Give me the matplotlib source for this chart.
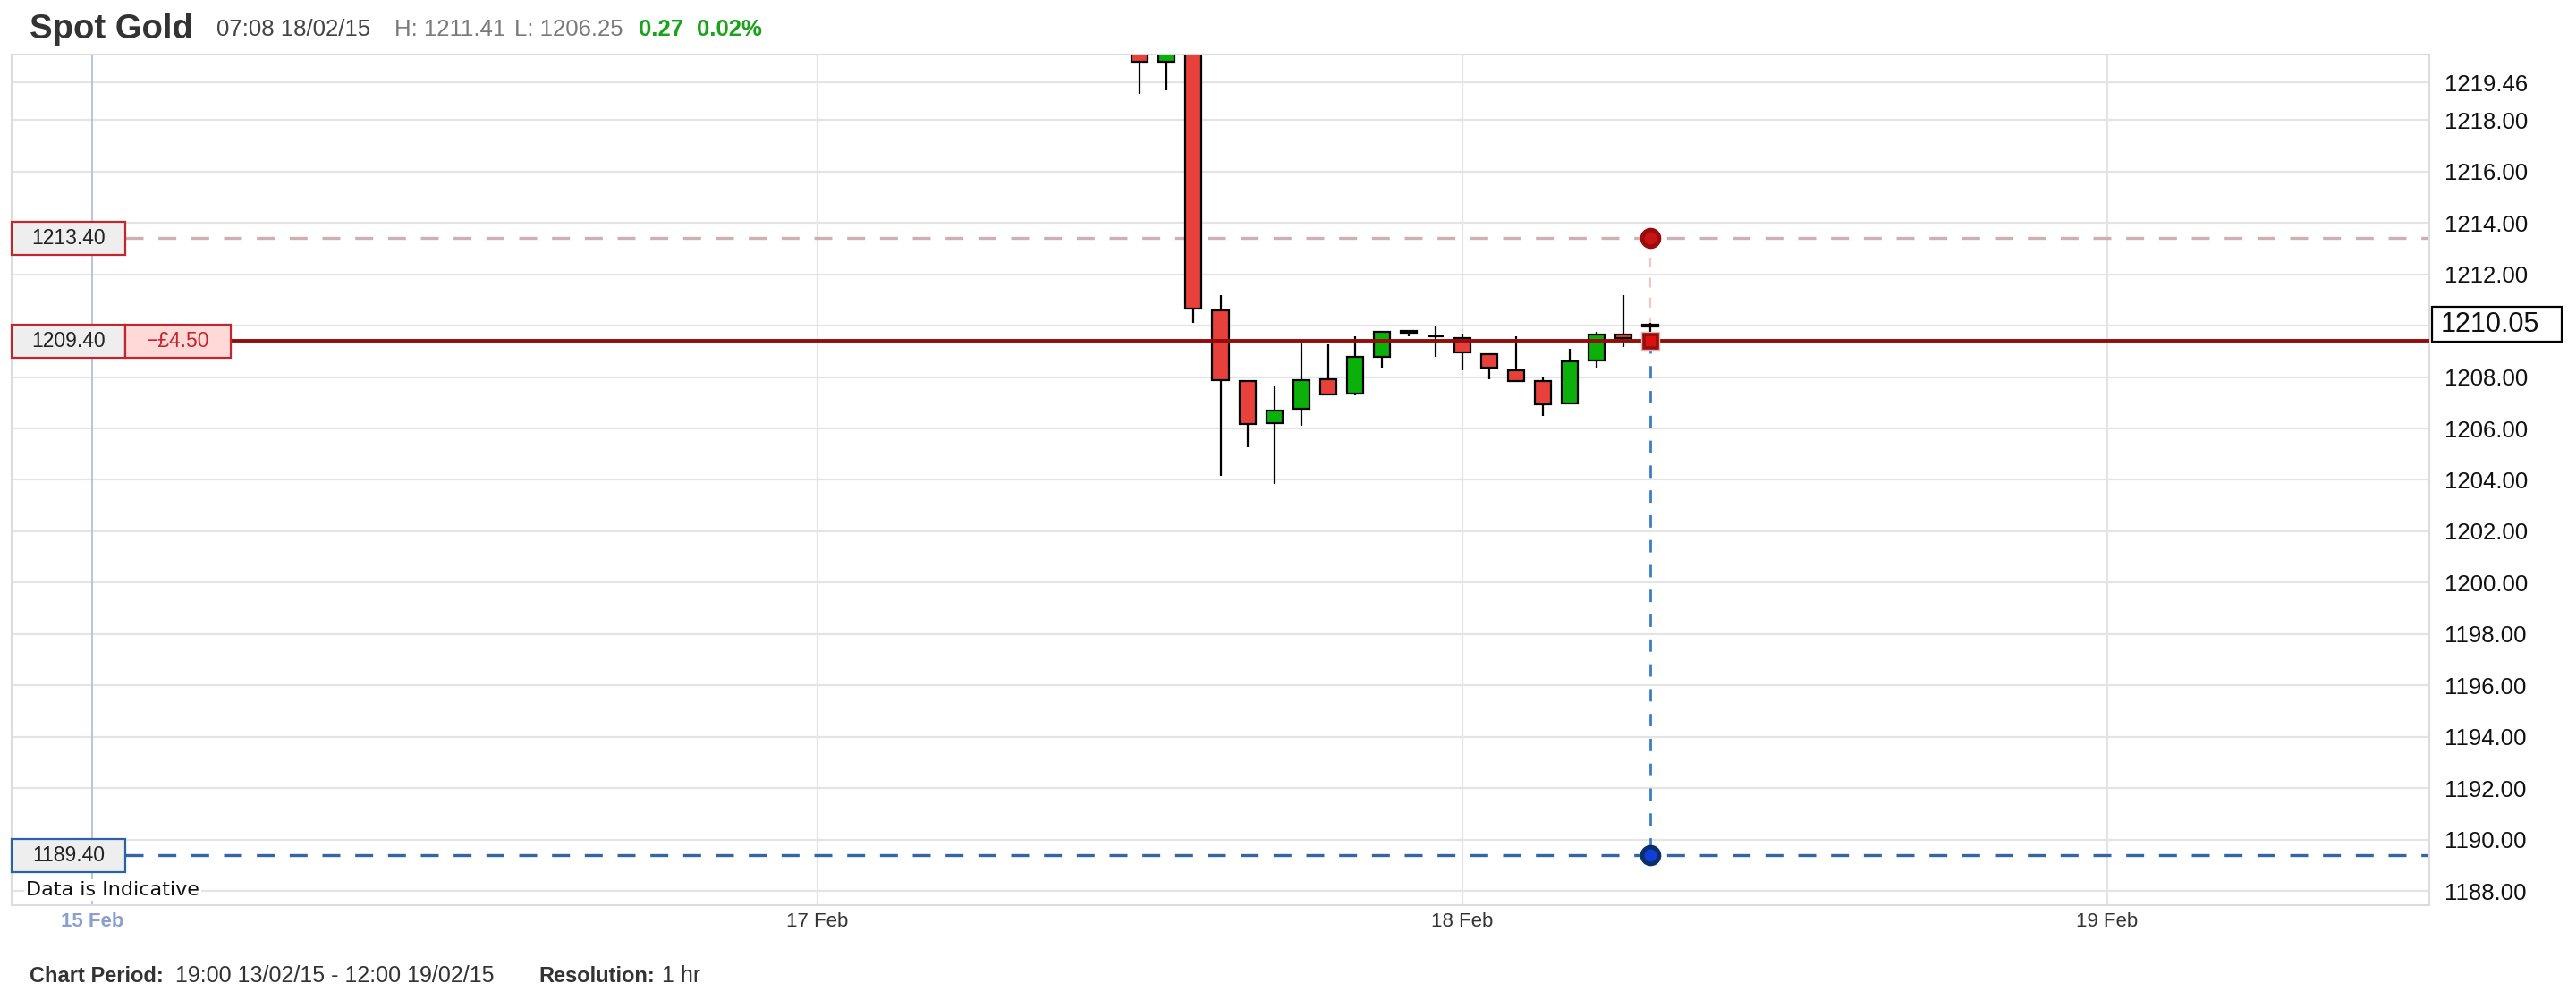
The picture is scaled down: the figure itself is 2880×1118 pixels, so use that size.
import matplotlib
matplotlib.use("Agg")
import matplotlib.pyplot as plt
import numpy as np
from matplotlib.patches import Rectangle
from matplotlib.transforms import blended_transform_factory

plt.rcParams['font.family'] = ['Liberation Sans', 'DejaVu Sans']

# hourly candles, x = hours counted from 17 Feb 00:00
hours = np.arange(12, 32)
opens = np.array([1221.20, 1220.26, 1221.10, 1210.59, 1207.83, 1206.22, 1206.77, 1207.92,
                  1207.37, 1208.78, 1209.78, 1209.60, 1209.51, 1208.88, 1208.25, 1207.83,
                  1206.98, 1208.64, 1209.66, 1209.98])
highs = np.array([1221.60, 1221.80, 1221.50, 1211.17, 1207.83, 1207.65, 1209.33, 1209.28,
                  1209.60, 1209.75, 1209.78, 1209.96, 1209.69, 1208.88, 1209.60, 1207.98,
                  1209.08, 1209.75, 1211.17, 1210.10])
lows = np.array([1219.00, 1219.16, 1210.11, 1204.16, 1205.27, 1203.86, 1206.10, 1207.31,
                 1207.29, 1208.37, 1209.60, 1208.78, 1208.25, 1207.92, 1207.82, 1206.49,
                 1206.98, 1208.36, 1209.18, 1209.40])
closes = np.array([1220.25, 1221.30, 1210.66, 1207.88, 1206.19, 1206.70, 1207.89, 1207.31,
                   1208.77, 1209.75, 1209.72, 1209.60, 1208.94, 1208.37, 1207.86, 1206.95,
                   1208.60, 1209.64, 1209.52, 1210.05])

# date ticks (hours from 17 Feb 00:00)
date_pos = [-27, 0, 24, 48]
date_labels = ['15 Feb', '17 Feb', '18 Feb', '19 Feb']

price_ticks = [1188, 1190, 1192, 1194, 1196, 1198, 1200, 1202, 1204, 1206, 1208,
               1210, 1212, 1214, 1216, 1218, 1219.46]

last_price = 1210.05
stop_level = 1189.40
limit_level = 1213.40
open_level = 1209.40
pnl_text = '\u2212\u00a34.50'
order_hour = 31

W, H = 2880, 1118
fig = plt.figure(figsize=(W / 100, H / 100), dpi=100)
ax_l, ax_r, ax_t, ax_b = 13, 2716, 61, 1012
ax = fig.add_axes([ax_l / W, 1 - ax_b / H, (ax_r - ax_l) / W, (ax_b - ax_t) / H])
ax.set_xlim(-30, 60)
ax.set_ylim(1187.46, 1220.54)

# grid
for y in price_ticks:
    ax.axhline(y, color='#e4e4e4', lw=1.6, zorder=0)
for x in date_pos[1:]:
    ax.axvline(x, color='#e4e4e4', lw=1.6, zorder=0)
ax.axvline(date_pos[0], color='#b4c4ea', lw=1.4, zorder=0)

for s in ax.spines.values():
    s.set_color('#dcdcdc')
    s.set_linewidth(1.5)

# candles
up = closes >= opens
colors = np.where(up, '#0bb00b', '#e8413b')
ax.vlines(hours, lows, highs, color='black', lw=1.6, zorder=2)
ax.bar(hours, np.abs(closes - opens), bottom=np.minimum(opens, closes), width=0.6,
       color=colors, edgecolor='black', linewidth=1.6, zorder=3)

# order levels
fx_box = (140 - ax_l) / (ax_r - ax_l)
fx_pnl = (258 - ax_l) / (ax_r - ax_l)
ax.axhline(limit_level, xmin=fx_box, color='#cdb0b3', lw=2.4, ls=(0, (6, 5)), zorder=1)
ax.axhline(open_level, xmin=fx_pnl, color='#920c0c', lw=2.8, zorder=4)
ax.axhline(stop_level, xmin=fx_box, color='#3565a3', lw=2.4, ls=(0, (6, 5)), zorder=1)
ax.plot([order_hour, order_hour], [limit_level, open_level], color='#f3c6c6', lw=1.6,
        ls=(0, (5, 5)), zorder=1)
ax.plot([order_hour, order_hour], [open_level, stop_level], color='#3b7dc4', lw=2.0,
        ls=(0, (5, 5)), zorder=1)
ax.plot(order_hour, limit_level, 'o', ms=16, color='#9a0c0c', zorder=6)
ax.plot(order_hour, limit_level, 'o', ms=9, color='#c81414', zorder=7)
ax.plot(order_hour, stop_level, 'o', ms=16, color='#0b2f6b', zorder=6)
ax.plot(order_hour, stop_level, 'o', ms=9, color='#1040d8', zorder=7)
ax.plot(order_hour, open_level, 's', ms=15, color='#8e1212', mec='#f0b0b0', mew=1, zorder=6)
ax.plot(order_hour, open_level, 's', ms=7, color='#e00f0f', zorder=7)

# left level boxes
bt = blended_transform_factory(ax.transAxes, ax.transData)
box_h = 37 / 28.75


def level_box(level, edge, x0_px, x1_px, face, text, tcolor):
    fx0 = (x0_px - ax_l) / (ax_r - ax_l)
    fx1 = (x1_px - ax_l) / (ax_r - ax_l)
    ax.add_patch(Rectangle((fx0, level - box_h / 2), fx1 - fx0, box_h, transform=bt,
                           facecolor=face, edgecolor=edge, lw=1.6, zorder=8, clip_on=False))
    ax.text((fx0 + fx1) / 2, level, text, transform=bt, ha='center', va='center',
            fontsize=16.5, color=tcolor, zorder=9)


level_box(limit_level, '#c0262b', ax_l, 140, '#eeeeee', f'{limit_level:.2f}', '#222222')
level_box(open_level, '#c0262b', ax_l, 140, '#eeeeee', f'{open_level:.2f}', '#222222')
level_box(open_level, '#c0262b', 140, 258, '#ffd8d8', pnl_text, '#c0262b')
level_box(stop_level, '#2a62a8', ax_l, 140, '#eeeeee', f'{stop_level:.2f}', '#222222')

ax.text((29 - ax_l) / (ax_r - ax_l), 1188.05, 'Data is Indicative', transform=bt,
        ha='left', va='center', fontsize=16, family=['DejaVu Sans'], color='#111111',
        zorder=9, bbox=dict(boxstyle='square,pad=0.1', fc='white', ec='none'))

# axes ticks
ax.yaxis.tick_right()
ax.set_yticks(price_ticks)
ax.set_yticklabels(['' if abs(p - 1210) < 1e-6 else f'{p:.2f}' for p in price_ticks])
ax.tick_params(axis='y', length=0, pad=12, labelsize=18.5, labelcolor='#111111')
ax.set_xticks(date_pos)
ax.set_xticklabels(date_labels)
ax.tick_params(axis='x', length=0, pad=6, labelsize=16, labelcolor='#333333')
first = ax.get_xticklabels()[0]
first.set_color('#8b9fcf')
first.set_fontweight('bold')

# current price box on the right
px = (2719 - ax_l) / (ax_r - ax_l)
pw = 145 / (ax_r - ax_l)
ph = 39 / 28.75
ax.add_patch(Rectangle((px, last_price - ph / 2), pw, ph, transform=bt, facecolor='white',
                       edgecolor='black', lw=1.6, zorder=8, clip_on=False))
ax.text((2729 - ax_l) / (ax_r - ax_l), last_price, f'{last_price:.2f}', transform=bt,
        ha='left', va='center', fontsize=22, color='#111111', zorder=9)

# header / footer: text runs placed left to right
renderer = fig.canvas.get_renderer()


def text_run(yp, parts):
    end = 0
    for xp, s, kw in parts:
        x = max(xp, end + 8)
        t = fig.text(x / W, 1 - yp / H, s, va='center', ha='left', **kw)
        end = t.get_window_extent(renderer).x1


green = dict(fontsize=18.5, fontweight='bold', color='#18a318')
text_run(33, [
    (33, 'Spot Gold', dict(fontsize=27.5, fontweight='bold', color='#333333')),
    (242, '07:08 18/02/15', dict(fontsize=18.5, color='#444444')),
    (441, 'H: 1211.41', dict(fontsize=18.5, color='#7a7a7a')),
    (575, 'L: 1206.25', dict(fontsize=18.5, color='#7a7a7a')),
    (714, '0.27', green),
    (779, '0.02%', green),
])
text_run(1091, [
    (33, 'Chart Period:', dict(fontsize=17, fontweight='bold', color='#333333')),
    (196, '19:00 13/02/15 - 12:00 19/02/15', dict(fontsize=18, color='#333333')),
    (602, 'Resolution:', dict(fontsize=17, fontweight='bold', color='#333333')),
    (735, '1 hr', dict(fontsize=18, color='#333333')),
])

fig.savefig('out.png', dpi=100, facecolor='white')
